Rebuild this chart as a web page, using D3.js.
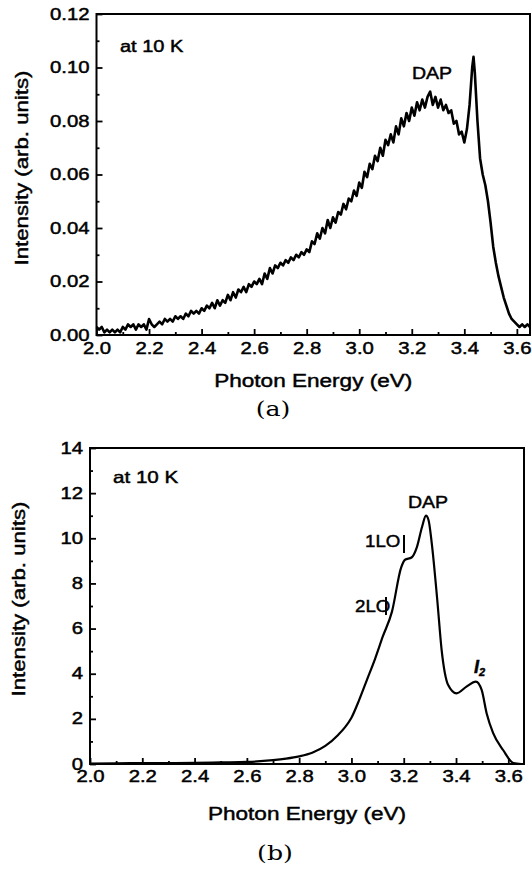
<!DOCTYPE html>
<html><head><meta charset="utf-8">
<script src="https://cdn.jsdelivr.net/npm/d3@7"></script>
<style>html,body{margin:0;padding:0;background:#fff;}svg{display:block;}</style>
</head><body>
<script>
// ---------- DATA ----------
const xTicks = [2.0, 2.2, 2.4, 2.6, 2.8, 3.0, 3.2, 3.4, 3.6];
const xMinorTicks = [2.1, 2.3, 2.5, 2.7, 2.9, 3.1, 3.3, 3.5];
const yTicksA = [0.00, 0.02, 0.04, 0.06, 0.08, 0.10, 0.12];
const yMinorTicksA = [0.01, 0.03, 0.05, 0.07, 0.09, 0.11];
const yTicksB = [0, 2, 4, 6, 8, 10, 12, 14];
const yMinorTicksB = [1, 3, 5, 7, 9, 11, 13];

// panel (a): noisy PL spectrum
const energyA = [
 2.00,2.01,2.02,2.03,2.04,2.05,2.06,2.07,2.08,2.09,
 2.10,2.11,2.12,2.13,2.14,2.15,2.16,2.17,2.18,2.19,
 2.20,2.21,2.22,2.23,2.24,2.25,2.26,2.27,2.28,2.29,
 2.30,2.31,2.32,2.33,2.34,2.35,2.36,2.37,2.38,2.39,
 2.40,2.41,2.42,2.43,2.44,2.45,2.46,2.47,2.48,2.49,
 2.50,2.51,2.52,2.53,2.54,2.55,2.56,2.57,2.58,2.59,
 2.60,2.61,2.62,2.63,2.64,2.65,2.66,2.67,2.68,2.69,
 2.70,2.71,2.72,2.73,2.74,2.75,2.76,2.77,2.78,2.79,
 2.80,2.81,2.82,2.83,2.84,2.85,2.86,2.87,2.88,2.89,
 2.90,2.91,2.92,2.93,2.94,2.95,2.96,2.97,2.98,2.99,
 3.00,3.01,3.02,3.03,3.04,3.05,3.06,3.07,3.08,3.09,
 3.10,3.11,3.12,3.13,3.14,3.15,3.16,3.17,3.18,3.19,
 3.20,3.21,3.22,3.23,3.24,3.25,3.26,3.27,3.28,3.29,
 3.30,3.31,3.32,3.33,3.34,3.35,3.36,3.37,3.38,3.39,
 3.40,3.41,3.42,3.43,3.435,3.44,
 3.45,3.46,3.47,3.48,3.49,
 3.50,3.51,3.52,3.53,3.54,3.55,3.56,3.57,3.58,3.59,
 3.60,3.61,3.62,3.63,3.64,3.65];
const intensityA = [
 0.003,0.002,0.003,0.001,0.002,0.001,0.002,0.001,0.002,0.001,
 0.003,0.002,0.004,0.003,0.004,0.002,0.004,0.003,0.004,0.002,
 0.006,0.004,0.003,0.004,0.005,0.004,0.006,0.005,0.006,0.005,
 0.007,0.006,0.007,0.006,0.008,0.007,0.009,0.008,0.009,0.008,
 0.010,0.009,0.011,0.010,0.012,0.010,0.013,0.011,0.013,0.012,
 0.015,0.013,0.016,0.014,0.017,0.016,0.018,0.016,0.019,0.018,
 0.020,0.019,0.021,0.019,0.023,0.021,0.025,0.023,0.026,0.025,
 0.027,0.026,0.028,0.027,0.029,0.028,0.030,0.029,0.031,0.030,
 0.032,0.031,0.035,0.034,0.038,0.036,0.040,0.038,0.043,0.040,
 0.044,0.042,0.046,0.045,0.049,0.047,0.051,0.050,0.054,0.052,
 0.057,0.055,0.061,0.059,0.064,0.062,0.067,0.065,0.070,0.067,
 0.073,0.071,0.075,0.072,0.078,0.075,0.081,0.078,0.083,0.080,
 0.085,0.082,0.087,0.084,0.088,0.085,0.089,0.091,0.086,0.089,
 0.085,0.088,0.084,0.086,0.083,0.084,0.079,0.080,0.075,0.076,
 0.072,0.077,0.086,0.100,0.104,0.098,
 0.080,0.066,0.060,0.056,0.050,
 0.042,0.033,0.027,0.022,0.018,0.014,0.011,0.008,0.006,0.005,
 0.004,0.003,0.004,0.003,0.004,0.003];

// panel (b): smooth PL spectrum
const energyB = [2.00,2.10,2.20,2.30,2.40,2.50,2.60,2.70,2.75,2.80,2.85,2.90,2.95,2.975,3.00,3.03,3.06,3.09,3.12,3.155,3.19,3.205,3.23,3.25,3.27,3.285,3.295,3.307,3.328,3.345,3.37,3.402,3.44,3.476,3.498,3.517,3.542,3.58,3.62,3.65];
const intensityB = [0.02,0.03,0.04,0.04,0.05,0.07,0.09,0.17,0.24,0.34,0.5,0.8,1.3,1.62,2.05,2.85,3.75,4.65,5.65,6.75,8.7,9.05,9.15,9.6,10.5,11.0,10.8,9.8,7.3,5.05,3.5,3.13,3.43,3.65,3.28,2.25,1.37,0.62,0.04,0.0];

// ---------- DRAW ----------
const W = 532, H = 872;
const FONT = '"Liberation Sans", Arial, sans-serif';
const TEXT_STROKE = 0.45;
const svg = d3.select("body").append("svg").attr("width", W).attr("height", H)
  .style("background", "#fff");

function label(parent, x, y, str, o) {
  o = o || {};
  const sx = o.sx || 1;
  const g = parent.append("g")
    .attr("transform", `translate(${x},${y})${o.rotate ? ` rotate(${o.rotate})` : ""} scale(${sx},1)`);
  const t = g.append("text")
    .attr("font-family", o.family || FONT)
    .attr("font-size", o.size || 16)
    .attr("font-weight", o.weight || "normal")
    .attr("font-style", o.style || "normal")
    .attr("text-anchor", o.anchor || "start")
    .attr("fill", "#000")
    .attr("stroke", "#000").attr("stroke-width", o.stroke != null ? o.stroke : TEXT_STROKE)
    .text(str);
  return t;
}

function stretchTicks(g, sx) {
  g.selectAll(".tick text").each(function () {
    const t = d3.select(this);
    const x0 = +t.attr("x") || 0;
    t.attr("x", x0 / sx).attr("transform", `scale(${sx},1)`);
  });
}

function panel(cfg) {
  const x = d3.scaleLinear().domain(cfg.xDomain).range([cfg.left, cfg.right]);
  const y = d3.scaleLinear().domain(cfg.yDomain).range([cfg.bottom, cfg.top]);
  const g = svg.append("g");

  // data line
  const line = d3.line().x((d, i) => x(cfg.ex[i])).y(d => y(d)).curve(cfg.curve);
  g.append("path").datum(cfg.iy)
    .attr("d", line)
    .attr("fill", "none").attr("stroke", "#000")
    .attr("stroke-width", cfg.lineWidth).attr("stroke-linejoin", "round");

  // x axis (inward ticks)
  const gx = g.append("g").attr("transform", `translate(0,${cfg.bottom})`);
  gx.call(d3.axisBottom(x).tickValues(xTicks).tickSizeInner(-6).tickSizeOuter(0)
    .tickPadding(cfg.xPad).tickFormat(d3.format(".1f")));
  const gxm = g.append("g").attr("transform", `translate(0,${cfg.bottom})`);
  gxm.call(d3.axisBottom(x).tickValues(xMinorTicks).tickSizeInner(-3).tickSizeOuter(0).tickFormat(""));

  // y axis
  const gy = g.append("g").attr("transform", `translate(${cfg.left},0)`);
  gy.call(d3.axisLeft(y).tickValues(cfg.yTicks).tickSizeInner(-6).tickSizeOuter(0)
    .tickPadding(7).tickFormat(cfg.yFormat));
  const gym = g.append("g").attr("transform", `translate(${cfg.left},0)`);
  gym.call(d3.axisLeft(y).tickValues(cfg.yMinor).tickSizeInner(-3).tickSizeOuter(0).tickFormat(""));

  [gx, gxm, gy, gym].forEach(a => {
    a.select(".domain").remove();
    a.selectAll(".tick line").attr("stroke", "#000").attr("stroke-width", 1.8);
    a.selectAll(".tick text").attr("font-family", FONT).attr("font-size", 16).attr("fill", "#000")
      .attr("stroke", "#000").attr("stroke-width", TEXT_STROKE);
  });
  stretchTicks(gx, 1.27);
  stretchTicks(gy, 1.27);

  // frame
  g.append("rect")
    .attr("x", cfg.left).attr("y", cfg.top)
    .attr("width", cfg.right - cfg.left).attr("height", cfg.bottom - cfg.top)
    .attr("fill", "none").attr("stroke", "#000").attr("stroke-width", 2);

  // axis titles
  label(g, (cfg.left + cfg.right) / 2, cfg.xTitleY, "Photon Energy (eV)",
    { size: 18.5, sx: 1.22, anchor: "middle" });
  label(g, cfg.yTitleX, cfg.yTitleY, "Intensity (arb. units)",
    { size: 18.5, sx: 1.2, anchor: "middle", rotate: -90 });
  return { x, y, g };
}

// panel (a)
const pa = panel({
  xDomain: [2.0, 3.65], yDomain: [0, 0.12],
  left: 96.5, right: 530, top: 14, bottom: 335,
  ex: energyA, iy: intensityA, curve: d3.curveLinear, lineWidth: 2.6,
  yTicks: yTicksA, yMinor: yMinorTicksA, yFormat: d3.format(".2f"),
  xPad: 8, xTitleY: 387, yTitleX: 28, yTitleY: 168
});
label(pa.g, 120, 52, "at 10 K", { size: 16, sx: 1.25 });
label(pa.g, 432, 79, "DAP", { size: 17, sx: 1.15, anchor: "middle" });
label(svg, 273, 416, "(a)", { size: 21, sx: 1.2, anchor: "middle", stroke: 0, family: '"DejaVu Serif", "Liberation Serif", serif' });

// panel (b)
const pb = panel({
  xDomain: [2.0, 3.66], yDomain: [0, 14],
  left: 90, right: 524, top: 448, bottom: 764,
  ex: energyB, iy: intensityB, curve: d3.curveMonotoneX, lineWidth: 2.2,
  yTicks: yTicksB, yMinor: yMinorTicksB, yFormat: d3.format("d"),
  xPad: 7, xTitleY: 820, yTitleX: 25, yTitleY: 599
});
label(pb.g, 113, 483, "at 10 K", { size: 16.5, sx: 1.25 });
label(pb.g, 428, 508, "DAP", { size: 17, sx: 1.15, anchor: "middle" });
label(pb.g, 365, 547, "1LO", { size: 17, sx: 1.1 });
label(pb.g, 355, 612, "2LO", { size: 17, sx: 1.1 });
pb.g.append("line").attr("x1", 404).attr("x2", 404).attr("y1", 535).attr("y2", 553)
  .attr("stroke", "#000").attr("stroke-width", 2);
pb.g.append("line").attr("x1", 386).attr("x2", 386).attr("y1", 597).attr("y2", 615)
  .attr("stroke", "#000").attr("stroke-width", 2);
const i2 = label(pb.g, 474, 673, "I", { size: 18, weight: "bold", style: "italic" });
i2.append("tspan").attr("font-size", 11).attr("dy", 3).text("2");
label(svg, 275, 860, "(b)", { size: 21, sx: 1.2, anchor: "middle", stroke: 0, family: '"DejaVu Serif", "Liberation Serif", serif' });
</script>
</body></html>
